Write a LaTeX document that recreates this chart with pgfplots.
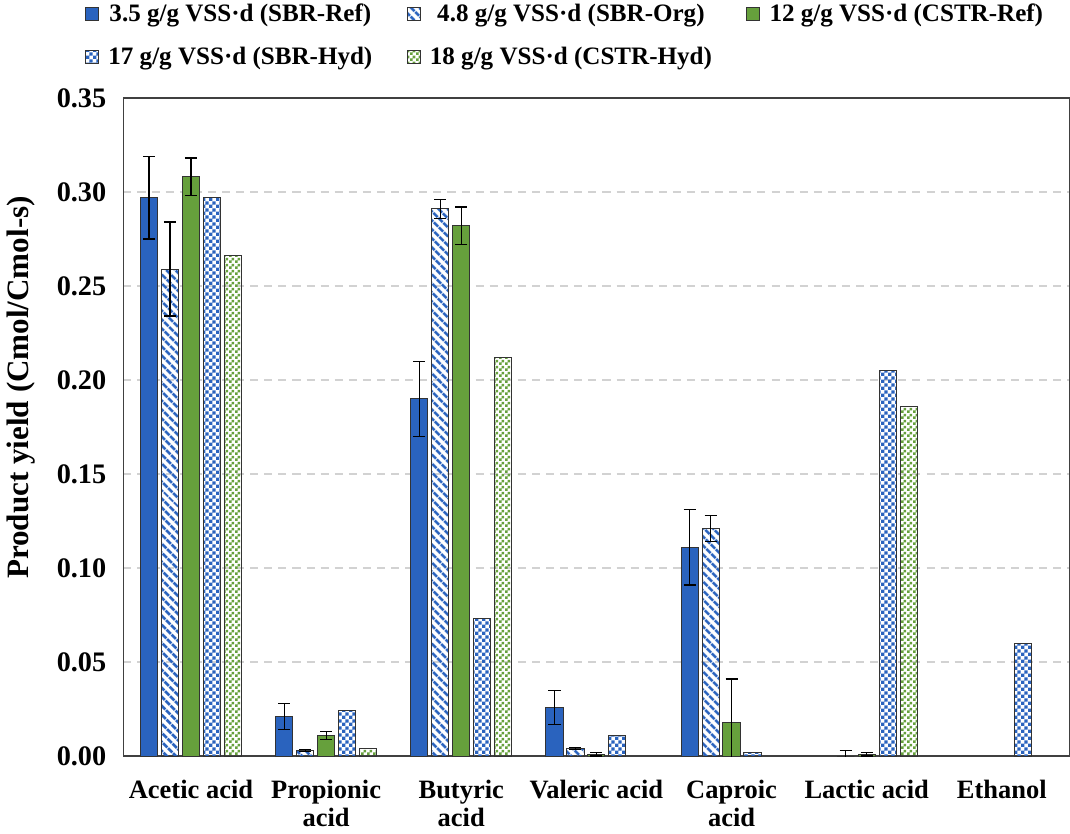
\documentclass[border=0pt]{standalone}
\usepackage{fontspec}
\setmainfont{Liberation Serif}
\usepackage{pgfplots}
\pgfplotsset{compat=1.18}
\usetikzlibrary{patterns,patterns.meta}
\definecolor{cblue}{HTML}{2A63BE}
\definecolor{cgreen}{HTML}{66A03C}
\pgfdeclarepatternformonly{bluechecker}{\pgfqpoint{0pt}{0pt}}{\pgfqpoint{3.6bp}{3.6bp}}{\pgfqpoint{3.6bp}{3.6bp}}{%
 \pgfpathrectangle{\pgfqpoint{0pt}{0pt}}{\pgfqpoint{1.8bp}{1.8bp}}%
 \pgfpathrectangle{\pgfqpoint{1.8bp}{1.8bp}}{\pgfqpoint{1.8bp}{1.8bp}}%
 \pgfusepath{fill}}
\pgfdeclarepatternformonly{greenchecker}{\pgfqpoint{0pt}{0pt}}{\pgfqpoint{3bp}{3bp}}{\pgfqpoint{3bp}{3bp}}{%
 \pgfpathrectangle{\pgfqpoint{0pt}{0pt}}{\pgfqpoint{1.5bp}{1.5bp}}%
 \pgfpathrectangle{\pgfqpoint{1.5bp}{1.5bp}}{\pgfqpoint{1.5bp}{1.5bp}}%
 \pgfusepath{fill}}

\pgfplotstableread{
x y e
0 0.297 0.022
1 0.021 0.007
2 0.190 0.020
3 0.026 0.009
4 0.111 0.020
}\sbrref
\pgfplotstableread{
x y e
0 0.259 0.025
1 0.003 0.0007
2 0.291 0.005
3 0.004 0.0006
4 0.121 0.007
5 0.000 0.003
}\sbrorg
\pgfplotstableread{
x y e
0 0.308 0.010
1 0.011 0.002
2 0.282 0.010
3 0.001 0.001
4 0.018 0.023
5 0.001 0.001
}\cstrref
\pgfplotstableread{
x y
0 0.297
1 0.024
2 0.073
3 0.011
4 0.002
5 0.205
6 0.060
}\sbrhyd
\pgfplotstableread{
x y
0 0.266
1 0.004
2 0.212
5 0.186
}\cstrhyd

\begin{document}
\begin{tikzpicture}
\begin{axis}[
  scale only axis, width=470bp, height=327bp,
  ybar, bar width=0.127,
  xmin=-0.5, xmax=6.5, ymin=0, ymax=0.35,
  xtick={0,1,2,3,4,5,6},
  xticklabels={Acetic acid,{Propionic\\acid},{Butyric\\acid},Valeric acid,{Caproic\\acid},Lactic acid,Ethanol},
  x tick label style={align=center, font=\fontsize{13.2}{14}\selectfont\bfseries, yshift=-4bp},
  major x tick style={draw=none},
  ytick={0,0.05,0.10,0.15,0.20,0.25,0.30,0.35},
  major y tick style={draw=none},
  /pgf/number format/fixed, /pgf/number format/fixed zerofill, /pgf/number format/precision=2,
  /pgf/number format/assume math mode=true,
  y tick label style={font=\fontsize{14.1}{16}\selectfont\bfseries, xshift=-5bp},
  ymajorgrids, grid style={gray!35, dash pattern=on 4bp off 3bp, line width=0.6bp},
  axis line style={black!75, line width=0.6bp},
  ylabel={Product yield (Cmol/Cmol-s)},
  ylabel style={font=\fontsize{15.5}{17}\selectfont\bfseries, at={(ticklabel cs:0.56,4bp)}},
  error bars/error bar style={black, line width=0.6bp},
  error bars/error mark options={rotate=90, mark size=3bp, black, line width=0.6bp},
  legend columns=3,
  legend style={at={(0.468,1.04)}, anchor=south, draw=none, font=\fontsize{12.5}{14}\selectfont\bfseries,
    /tikz/every odd column/.append style={column sep=2.5bp},
    /tikz/every even column/.append style={column sep=15bp},
    row sep=7bp, inner sep=0pt},
  legend image code/.code={\draw[#1, bar shift=0pt] (0bp,-3.3bp) rectangle (6.6bp,3.3bp);},
]
\addplot[draw=black!80, line width=0.5bp, fill=cblue, bar shift=-0.31, error bars/.cd, y dir=both, y explicit] table[x=x, y=y, y error=e]{\sbrref};
\addplot[draw=black!80, line width=0.5bp, pattern={Lines[angle=-45, distance=3.6bp, line width=1.7bp]}, pattern color=cblue, bar shift=-0.155, error bars/.cd, y dir=both, y explicit] table[x=x, y=y, y error=e]{\sbrorg};
\addplot[draw=black!80, line width=0.5bp, fill=cgreen, bar shift=0, error bars/.cd, y dir=both, y explicit] table[x=x, y=y, y error=e]{\cstrref};
\addplot[draw=black!80, line width=0.5bp, pattern=bluechecker, pattern color=cblue, bar shift=0.155] table[x=x, y=y]{\sbrhyd};
\addplot[draw=black!80, line width=0.5bp, pattern=greenchecker, pattern color=cgreen, bar shift=0.31] table[x=x, y=y]{\cstrhyd};
\legend{3.5 g/g VSS·d (SBR-Ref), 4.8 g/g VSS·d (SBR-Org), 12 g/g VSS·d (CSTR-Ref), 17 g/g VSS·d (SBR-Hyd), 18 g/g VSS·d (CSTR-Hyd)}
\end{axis}
\end{tikzpicture}
\end{document}
